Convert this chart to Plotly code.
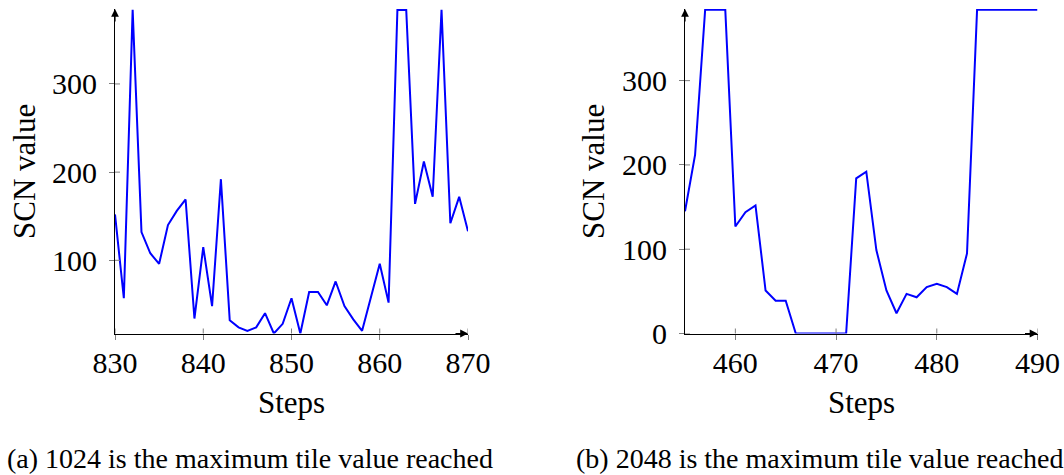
import plotly.graph_objects as go

# ---- data ----
steps_a = list(range(830, 871))
scn_a = [152, 57, 384, 132, 108, 96, 140, 156, 169, 34,
         115, 48, 192, 32, 24, 20, 24, 40, 17, 28,
         57, 17, 64, 64, 49, 76, 48, 33, 20, 57,
         96, 52, 384, 384, 164, 212, 172, 384, 142, 172,
         133]

steps_b = list(range(455, 491))
scn_b = [145, 212, 384, 384, 384, 127, 144, 152, 51, 39,
         39, 0, 0, 0, 0, 0, 0, 184, 192, 99,
         51, 24, 47, 43, 55, 59, 55, 47, 95, 384,
         384, 384, 384, 384, 384, 384]

xticks_a = [830, 840, 850, 860, 870]
yticks_a = [100, 200, 300]
xticks_b = [460, 470, 480, 490]
yticks_b = [0, 100, 200, 300]

x_label = "Steps"
y_label = "SCN value"
caption_a = "(a) 1024 is the maximum tile value reached"
caption_b = "(b) 2048 is the maximum tile value reached"

# ---- layout geometry (pixels) ----
W, H = 1064, 475
FONT = "Liberation Serif"
TICK_GRAY = "#7f7f7f"


def px_x(p):
    return p / W


def px_y(p):
    return (H - p) / H


plot_top, plot_bottom = 9, 333.5
dom_y = [px_y(plot_bottom), px_y(plot_top)]
dom_xa = [px_x(115), px_x(468)]
dom_xb = [px_x(685), px_x(1037.5)]

fig = go.Figure()
fig.add_trace(go.Scatter(x=steps_a, y=scn_a, mode="lines",
                         line=dict(color="#0000ff", width=2),
                         xaxis="x", yaxis="y", showlegend=False))
fig.add_trace(go.Scatter(x=steps_b, y=scn_b, mode="lines",
                         line=dict(color="#0000ff", width=2),
                         xaxis="x2", yaxis="y2", showlegend=False))

axis_common = dict(showgrid=False, zeroline=False, showline=True, automargin=False,
                   linecolor="black", linewidth=1.2,
                   ticks="outside", ticklen=5, tickwidth=1, tickcolor=TICK_GRAY,
                   tickfont=dict(family=FONT, size=30, color="black"))

fig.update_layout(
    width=W, height=H,
    margin=dict(l=0, r=0, t=0, b=0),
    paper_bgcolor="white", plot_bgcolor="white",
    xaxis=dict(domain=dom_xa, range=[830, 870], anchor="y",
               tickmode="array", tickvals=xticks_a, ticklabelstandoff=-3,
               **axis_common),
    yaxis=dict(domain=dom_y, range=[17, 385], anchor="x",
               tickmode="array", tickvals=yticks_a, ticklabelstandoff=6,
               **axis_common),
    xaxis2=dict(domain=dom_xb, range=[455, 490], anchor="y2",
                tickmode="array", tickvals=xticks_b, ticklabelstandoff=-3,
                **axis_common),
    yaxis2=dict(domain=dom_y, range=[0, 385], anchor="x2",
                tickmode="array", tickvals=yticks_b, ticklabelstandoff=6,
                **axis_common),
)

# inside halves of the ticks (pgfplots ticks cross the axis line)
shapes = []
for xr, yr, xt in (("x", "y", xticks_a), ("x2", "y2", xticks_b)):
    for v in xt:
        shapes.append(dict(type="line", xref=xr, yref=yr + " domain",
                           x0=v, x1=v, y0=0, y1=5 / (plot_bottom - plot_top),
                           line=dict(color=TICK_GRAY, width=1)))
for xr, yr, yt, wpx in (("x", "y", yticks_a, 353), ("x2", "y2", yticks_b, 352.5)):
    for v in yt:
        shapes.append(dict(type="line", xref=xr + " domain", yref=yr,
                           x0=0, x1=5 / wpx, y0=v, y1=v,
                           line=dict(color=TICK_GRAY, width=1)))
fig.update_layout(shapes=shapes)

ann = []
# axis arrowheads
for xr, yr in (("x", "y"), ("x2", "y2")):
    ann.append(dict(xref=xr + " domain", yref=yr + " domain", x=1, y=0,
                    ax=-14, ay=0, text="", showarrow=True, arrowhead=2,
                    arrowsize=1.3, arrowwidth=1.2, arrowcolor="black", standoff=0))
    ann.append(dict(xref=xr + " domain", yref=yr + " domain", x=0, y=1,
                    ax=0, ay=14, text="", showarrow=True, arrowhead=2,
                    arrowsize=1.3, arrowwidth=1.2, arrowcolor="black", standoff=0))

# axis titles and captions
for cx, ycx in ((291, 24), (861, 593)):
    ann.append(dict(xref="paper", yref="paper", x=px_x(cx), y=px_y(402),
                    text=x_label, showarrow=False, xanchor="center", yanchor="middle",
                    font=dict(family=FONT, size=31, color="black")))
    ann.append(dict(xref="paper", yref="paper", x=px_x(ycx), y=px_y(172),
                    text=y_label, showarrow=False, textangle=-90,
                    xanchor="center", yanchor="middle",
                    font=dict(family=FONT, size=31, color="black")))
fig.add_annotation(xref="paper", yref="paper", x=px_x(250), y=px_y(458),
                   text=caption_a, showarrow=False, xanchor="center", yanchor="middle",
                   font=dict(family=FONT, size=28, color="black"))
fig.add_annotation(xref="paper", yref="paper", x=px_x(820), y=px_y(458),
                   text=caption_b, showarrow=False, xanchor="center", yanchor="middle",
                   font=dict(family=FONT, size=28, color="black"))
for a in ann:
    fig.add_annotation(**a)

fig.write_html("out.html",
               config={"displayModeBar": False},
               post_script="document.body.style.margin='0';"
                           "document.body.style.overflow='hidden';")
